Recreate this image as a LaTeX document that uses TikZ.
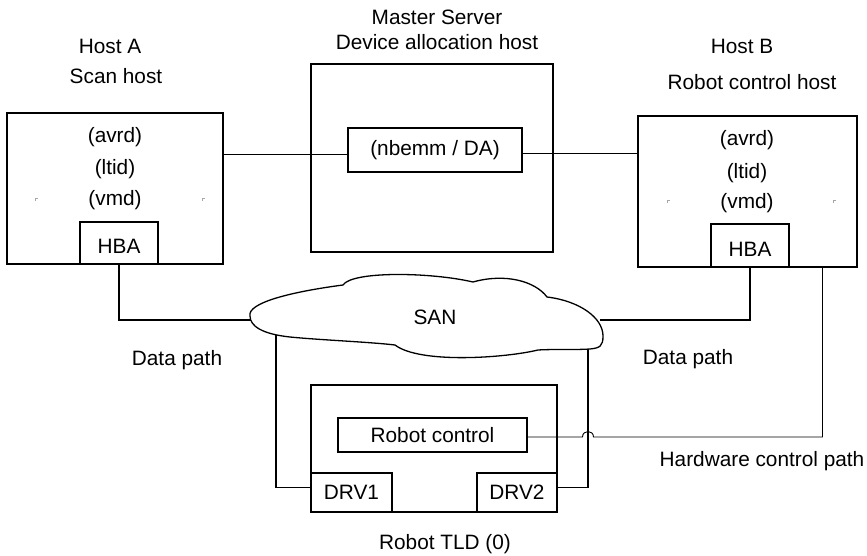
\documentclass[tikz,border=0pt]{standalone}
\usepackage{fontspec}
\setmainfont{Liberation Sans}
\usetikzlibrary{calc}
\begin{document}
\begin{tikzpicture}[x=1pt,y=-1pt,
  every node/.style={font=\fontsize{20.8}{24}\selectfont},
  outerbox/.style={draw, line width=2.4pt, inner sep=0pt},
  innerbox/.style={draw, line width=1.3pt, inner sep=0pt},
  lowtext/.style={text height=21pt, text depth=0pt},
  lbl/.style={inner sep=0pt, anchor=base},
  datal/.style={line width=1.3pt},
  thinl/.style={line width=0.9pt},
  tickm/.style={draw=black!35, line width=0.6pt}]
\path[use as bounding box] (0,0) rectangle (867,556);

% boxes
\node[outerbox, minimum width=216pt, minimum height=151pt] (hostA) at (115,188.5) {};
\node[outerbox, minimum width=219pt, minimum height=151pt] (hostB) at (747.5,191.5) {};
\node[outerbox, minimum width=242pt, minimum height=188pt] (master) at (432,158) {};
\node[innerbox, minimum width=174pt, minimum height=44pt] (nbemm) at (435,150) {(nbemm / DA)};
\node[innerbox, lowtext, minimum width=78pt, minimum height=42pt] (hbaA) at (119,243) {HBA};
\node[innerbox, lowtext, minimum width=78pt, minimum height=43pt] (hbaB) at (750,245.5) {HBA};
\node[outerbox, minimum width=246pt, minimum height=127pt] (robot) at (434,448.5) {};
\node[innerbox, minimum width=189pt, minimum height=34pt] (rc) at (432.5,435) {Robot control};
\node[innerbox, minimum width=81pt, minimum height=39pt] (drv1) at (351.5,492.5) {DRV1};
\node[innerbox, minimum width=80pt, minimum height=39pt] (drv2) at (517,492.5) {DRV2};

% texts in hosts
\node[lbl] (aAvrd) at (115,142.7) {(avrd)};
\node[lbl] (aLtid) at (115,175) {(ltid)};
\node[lbl] (aVmd) at (115,205) {(vmd)};
\node[lbl] (bAvrd) at (747,146) {(avrd)};
\node[lbl] (bLtid) at (747,178.3) {(ltid)};
\node[lbl] (bVmd) at (747,208.3) {(vmd)};

% faint corner marks
\draw[tickm] (35,201) -- (35,198) -- (38,198);
\draw[tickm] (202,201) -- (202,198) -- (205,198);
\draw[tickm] (667,203) -- (667,200) -- (670,200);
\draw[tickm] (833,203) -- (833,200) -- (836,200);

% titles
\node[lbl] (tHostA) at (110,53.3) {Host A};
\node[lbl] (tScan) at (116,83.3) {Scan host};
\node[lbl] (tMaster) at (437,25) {Master Server};
\node[lbl] (tDAH) at (437,50) {Device allocation host};
\node[lbl] (tHostB) at (742,53.3) {Host B};
\node[lbl] (tRCH) at (752,89.3) {Robot control host};

% nbemm links
\coordinate (nbL) at ([yshift=-4pt]nbemm.west);
\coordinate (nbR) at ([yshift=-3pt]nbemm.east);
\draw[thinl] (nbL) -- (hostA.east |- nbL);
\draw[thinl] (nbR) -- (hostB.west |- nbR);

% data paths
\coordinate (sanL) at (251,320);
\coordinate (sanR) at (600,320);
\coordinate (sanBL) at (276,334);
\coordinate (sanBR) at (588,348);
\coordinate (d1) at ([yshift=5pt]drv1.west);
\coordinate (d2) at ([yshift=5pt]drv2.east);
\draw[datal] (hbaA.south) |- (sanL);
\draw[datal] (hbaB.south) |- (sanR);
\draw[datal] (sanBL) |- (d1);
\draw[datal] (sanBR) |- (d2);

% hardware control path
\coordinate (hw) at ([xshift=75pt]hostB.south);
\coordinate (rcE) at ([yshift=-2pt]rc.east);
\draw[thinl] (rcE) -- ($(rcE -| sanBR)+(-5.5,0)$)
  .. controls +(0,-7.3) and +(0,-7.3) .. ($(rcE -| sanBR)+(5.5,0)$)
  -- (rcE -| hw) -- (hw);

% SAN cloud
\draw[line width=1.3pt, fill=white]
  (250,316) .. controls (247,303) and (290,292) .. (343,285)
  .. controls (352,271) and (430,272) .. (473,282)
  .. controls (505,273) and (535,281) .. (547,297)
  .. controls (580,301) and (603,318) .. (603,336)
  .. controls (603,346) and (600,348) .. (590,349)
  .. controls (575,350) and (555,349) .. (538,350)
  .. controls (505,358) and (420,364) .. (395,345)
  .. controls (370,342) and (320,340) .. (290,337)
  .. controls (262,334) and (250,326) .. cycle;
\node[lbl] (san) at (435,324) {SAN};

% labels
\node[lbl] (dpL) at (177,365.5) {Data path};
\node[lbl] (dpR) at (688,364) {Data path};
\node[lbl] (hcp) at (762,466) {Hardware control path};
\node[lbl] (tld) at (445,549.3) {Robot TLD (0)};
\end{tikzpicture}
\end{document}
